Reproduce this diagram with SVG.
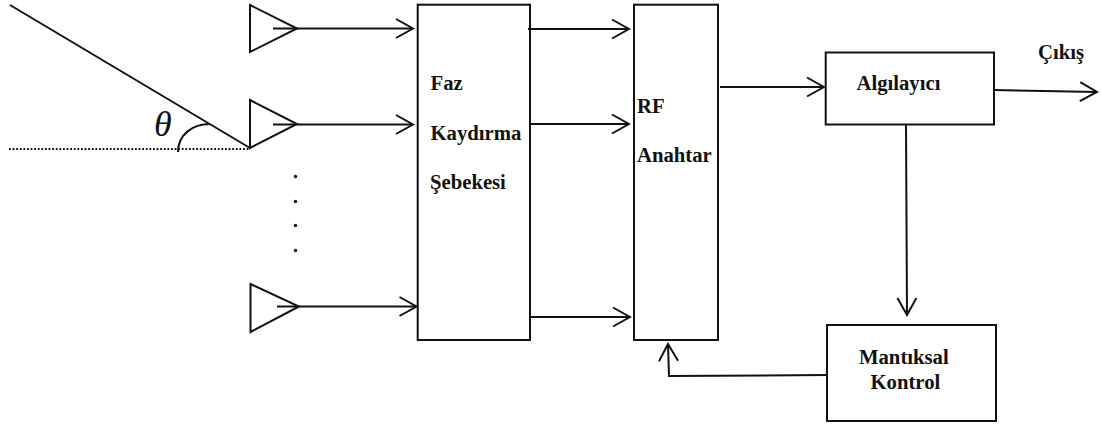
<svg xmlns="http://www.w3.org/2000/svg" width="1101" height="425" viewBox="0 0 1101 425">
<style>
.s{fill:none;stroke:#111;stroke-width:2}
.b{fill:#fff;stroke:#111;stroke-width:2}
.t{font-family:"Liberation Serif","Times New Roman",serif;font-weight:bold;font-size:20.7px;fill:#111}
.d{fill:#111}
</style>
<defs>
<marker id="a" markerUnits="userSpaceOnUse" markerWidth="20" markerHeight="24" refX="18" refY="11" orient="auto" viewBox="0 0 20 22">
<path d="M1 1.500L18 11L1 20.500" fill="none" stroke="#111" stroke-width="2"/>
</marker>
</defs>
<rect width="1101" height="425" fill="#fff"/>
<g id="incident-wave">
<path class="s" d="M10 5L250 148"/>
<path d="M9 149H250" fill="none" stroke="#111" stroke-width="1.800" stroke-dasharray="1.800 1.800"/>
<path class="s" d="M178 152C178 135 192 124 210 124"/>
<text x="154" y="136" font-family="'Liberation Serif',serif" font-style="italic" font-size="36" fill="#111">θ</text>
</g>
<g id="antenna-1"><path class="s" d="M250 5L297 28.500L250 52Z"/></g>
<g id="antenna-2"><path class="s" d="M250 100L297 124L250 148Z"/></g>
<g id="antenna-n"><path class="s" d="M250.500 284L299 306.500L250.500 332Z"/></g>
<g id="ellipsis" class="d">
<circle cx="295.500" cy="176.500" r="1.700"/><circle cx="295.500" cy="201.500" r="1.700"/><circle cx="295.500" cy="225.500" r="1.700"/><circle cx="295.500" cy="250.500" r="1.700"/>
</g>
<g id="phase-shifter">
<rect class="b" x="417.700" y="4.700" width="112.300" height="335.300"/>
<text class="t" x="430.500" y="90">Faz</text>
<text class="t" x="430.500" y="140">Kaydırma</text>
<text class="t" x="430" y="189">Şebekesi</text>
</g>
<g id="rf-switch">
<rect class="b" x="634" y="4.700" width="84" height="335.300"/>
<text class="t" x="637" y="113">RF</text>
<text class="t" x="637" y="162">Anahtar</text>
</g>
<g id="detector">
<rect class="b" x="825.700" y="52.500" width="168.300" height="72"/>
<text class="t" x="856.500" y="90">Algılayıcı</text>
</g>
<g id="logic-control">
<rect class="b" x="827" y="325" width="169" height="96"/>
<text class="t" x="859" y="364">Mantıksal</text>
<text class="t" x="870.500" y="389">Kontrol</text>
</g>
<text class="t" x="1038" y="59">Çıkış</text>
<g id="connectors">
<path class="s" marker-end="url(#a)" d="M273 28.500H413"/>
<path class="s" marker-end="url(#a)" d="M273 124.500H413"/>
<path class="s" marker-end="url(#a)" d="M277 306.500H416.500"/>
<path class="s" marker-end="url(#a)" d="M528 29H629"/>
<path class="s" marker-end="url(#a)" d="M529 124H629"/>
<path class="s" marker-end="url(#a)" d="M530 317H630"/>
<path class="s" marker-end="url(#a)" d="M720 87H824"/>
<path class="s" marker-end="url(#a)" d="M993 90L1097 92"/>
<path class="s" marker-end="url(#a)" d="M906 124L907 315"/>
<path class="s" marker-end="url(#a)" d="M827 375L669 376L668 344"/>
</g>
</svg>
